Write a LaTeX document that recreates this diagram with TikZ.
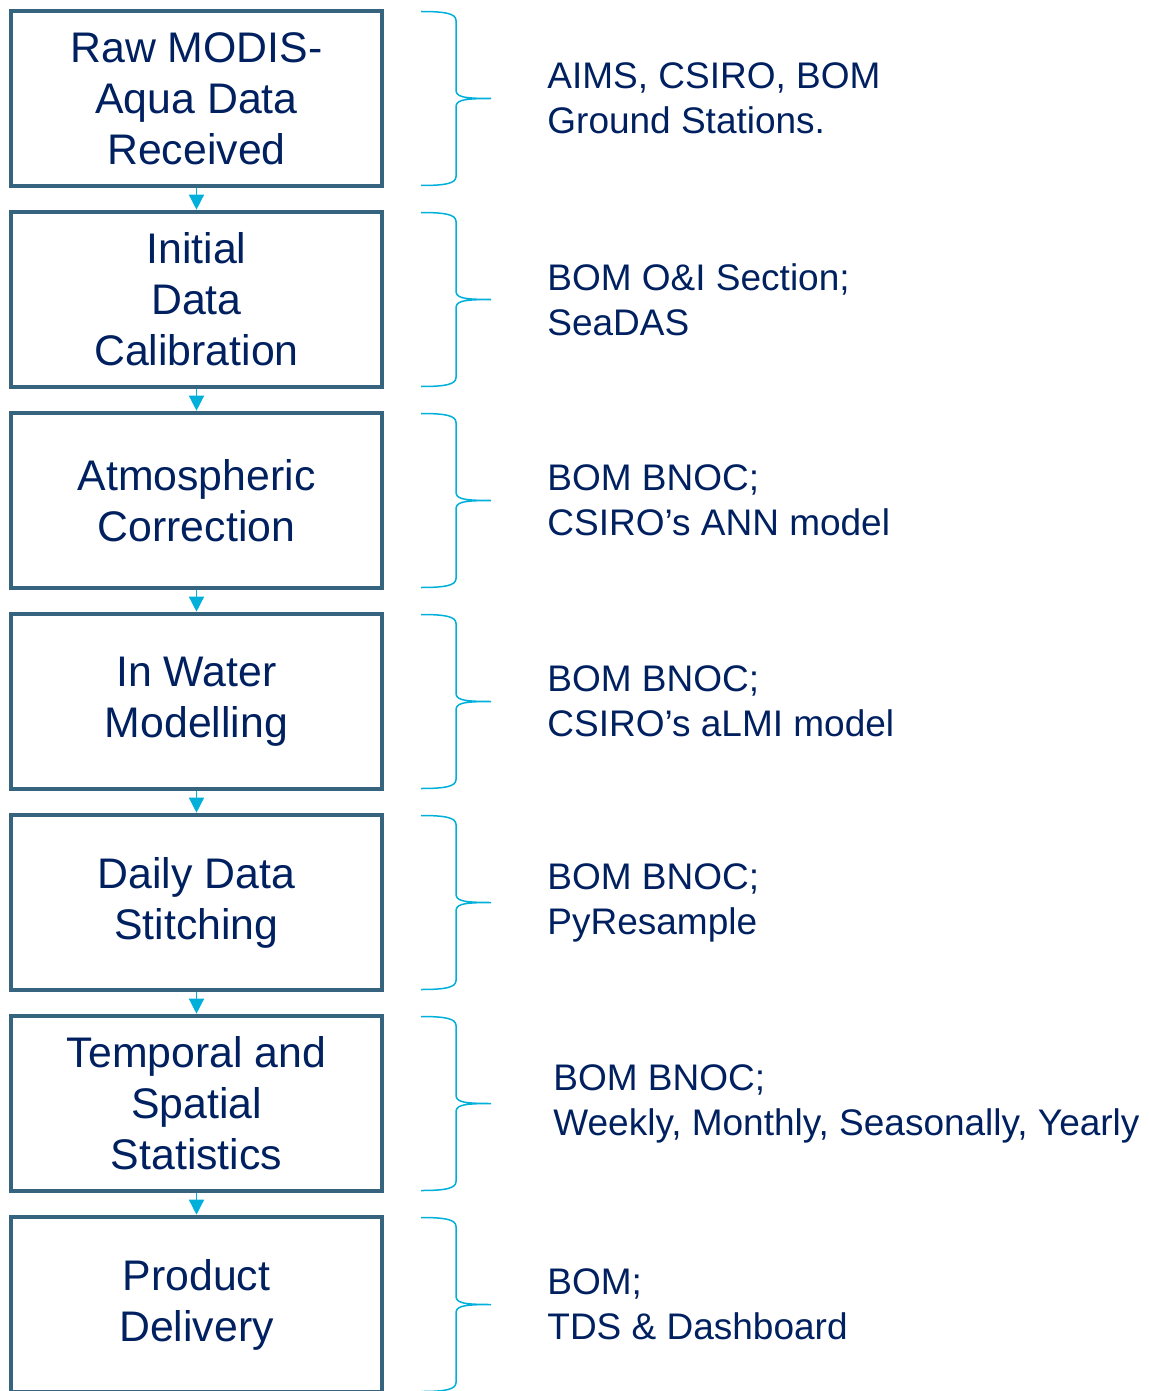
\documentclass[tikz,border=0pt]{standalone}
\usepackage{fontspec}
\setmainfont{Liberation Sans}
\usetikzlibrary{positioning,arrows.meta}

\definecolor{stageedge}{RGB}{54,99,126}
\definecolor{flowcyan}{RGB}{0,176,219}
\definecolor{navytext}{RGB}{0,32,96}

\tikzset{
  stage/.style={draw=stageedge, line width=2.3pt, minimum width=185.5pt,
    minimum height=87.5pt, inner sep=0pt, align=center, text=navytext,
    font=\fontsize{21.4}{25.5}\selectfont},
  flow/.style={draw=flowcyan, line width=0.7pt,
    -{Triangle[width=7.5pt,length=7.5pt]}},
  note/.style={anchor=west, inner sep=0pt, align=left, text=navytext,
    font=\fontsize{18.5}{22.5}\selectfont},
  rbrace/.pic={
    \draw[flowcyan, line width=0.75pt]
      (-70,-87) .. controls (-46,-87) and (-35,-85) .. (-35,-78) -- (-35,-9)
      .. controls (-35,-2) and (-30,0) .. (0,0)
      .. controls (-30,0) and (-35,2) .. (-35,9) -- (-35,78)
      .. controls (-35,85) and (-46,87) .. (-70,87);
  }
}

\begin{document}
\begin{tikzpicture}[x=0.5pt, y=-0.5pt, node distance=10.7pt]
  \useasboundingbox (0,0) rectangle (1149,1391);
  \coordinate (tip) at (491,0);
  \coordinate (notex) at (547,0);

  %% stages
  \node[stage] (s1) at (196.5,98.5) {Raw MODIS-\\Aqua Data\\Received};
  \node[stage, below=of s1] (s2) {Initial\\Data\\Calibration};
  \node[stage, below=of s2] (s3) {Atmospheric\\Correction};
  \node[stage, below=of s3] (s4) {In Water\\Modelling};
  \node[stage, below=of s4] (s5) {Daily Data\\Stitching};
  \node[stage, below=of s5] (s6) {Temporal and\\Spatial\\Statistics};
  \node[stage, below=of s6] (s7) {Product\\Delivery};

  %% arrows
  \foreach \a/\b in {s1/s2, s2/s3, s3/s4, s4/s5, s5/s6, s6/s7}
    \draw[flow] (\a) -- (\b);

  %% braces
  \foreach \s in {s1, s2, s3, s4, s5, s6, s7}
    \pic at (\s.east -| tip) {rbrace};

  %% notes
  \node[note] (t1) at (s1.east -| notex) {AIMS, CSIRO, BOM\\Ground Stations.};
  \node[note] (t2) at (s2.east -| notex) {BOM O\&I Section;\\SeaDAS};
  \node[note] (t3) at (s3.east -| notex) {BOM BNOC;\\CSIRO’s ANN model};
  \node[note] (t4) at (s4.east -| notex) {BOM BNOC;\\CSIRO’s aLMI model};
  \node[note] (t5) at (s5.east -| notex) {BOM BNOC;\\PyResample};
  \node[note, xshift=3pt] (t6) at (s6.east -| notex) {BOM BNOC;\\Weekly, Monthly, Seasonally, Yearly};
  \node[note] (t7) at (s7.east -| notex) {BOM;\\TDS \& Dashboard};
\end{tikzpicture}
\end{document}
